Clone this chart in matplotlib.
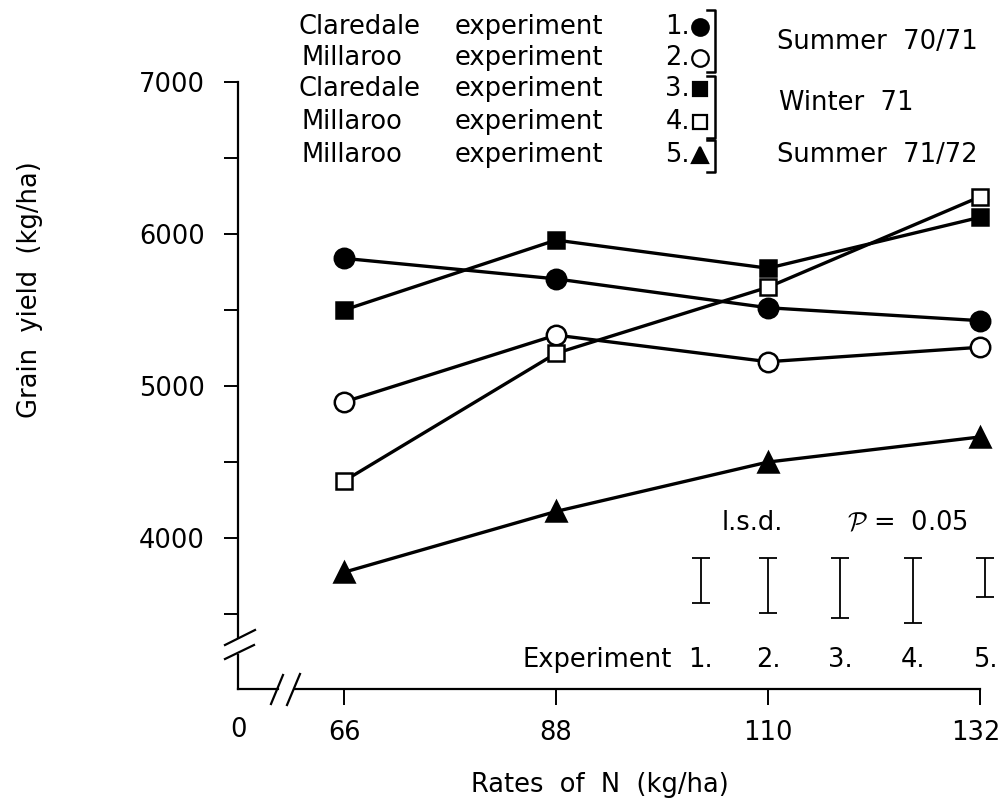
import matplotlib
matplotlib.use("Agg")
import matplotlib.pyplot as plt
import matplotlib.transforms as mtransforms
from matplotlib.lines import Line2D

# data
rates = [66, 88, 110, 132]
exp1 = [5840, 5705, 5515, 5430]   # Claredale, summer 70/71
exp2 = [4895, 5335, 5160, 5255]   # Millaroo, summer 70/71
exp3 = [5500, 5960, 5775, 6110]   # Claredale, winter 71
exp4 = [4375, 5215, 5650, 6245]   # Millaroo, winter 71
exp5 = [3775, 4175, 4500, 4665]   # Millaroo, summer 71/72

# l.s.d. bars (P = 0.05)
lsd_labels = ['1.', '2.', '3.', '4.', '5.']
lsd_x = [103, 110, 117.5, 125, 132.5]
lsd_top = 3870
lsd_len = [300, 365, 395, 430, 260]

FS = 18.5
plt.rcParams['font.family'] = ['DejaVu Sans']
W, H = 1001, 808
fig = plt.figure(figsize=(W / 100, H / 100), dpi=100)

# axes placed so 0 sits at px 238, 132 at px 980, 7000 at py 82
ax = fig.add_axes([238 / W, (H - 689) / H, (980 - 238) / W, (689 - 82) / H])
ax.set_xlim(55.0, 132)
ax.set_ylim(3007, 7000)
for s in ax.spines.values():
    s.set_visible(False)

# pixel transform for decorations
px = mtransforms.Affine2D().scale(1 / W, -1 / H).translate(0, 1) + fig.transFigure

styles = [
    (exp1, 'o', 'black', 14),
    (exp2, 'o', 'white', 14),
    (exp3, 's', 'black', 12),
    (exp4, 's', 'white', 12),
    (exp5, '^', 'black', 14),
]
for vals, m, fc, ms in styles:
    ax.plot(rates, vals, color='black', lw=2.4, marker=m, markersize=ms,
            markerfacecolor=fc, markeredgecolor='black', markeredgewidth=1.8,
            clip_on=False, zorder=3)

# axis lines with breaks
axline = dict(color='black', lw=1.6, clip_on=False, transform=px)
fig.add_artist(Line2D([238, 238], [82, 637], **axline))
fig.add_artist(Line2D([238, 238], [655, 689], **axline))
fig.add_artist(Line2D([225, 255], [645, 630], **axline))
fig.add_artist(Line2D([225, 254], [659, 645], **axline))
fig.add_artist(Line2D([238, 278], [689, 689], **axline))
fig.add_artist(Line2D([295, 980], [689, 689], **axline))
fig.add_artist(Line2D([271, 283], [704, 675], **axline))
fig.add_artist(Line2D([287, 300], [705, 674], **axline))

ax.set_xticks(rates)
ax.set_xticklabels([str(r) for r in rates])
ax.set_yticks([4000, 5000, 6000, 7000])
ax.set_yticks([3500, 4500, 5500, 6500], minor=True)
ax.tick_params(axis='y', which='both', direction='out', length=10, width=1.4,
               labelsize=FS, pad=14)
ax.tick_params(axis='x', which='both', direction='out', length=11.5, width=1.4,
               labelsize=FS, pad=11)
# keep "132" inside the canvas
last = ax.get_xticklabels()[-1]
last.set_transform(last.get_transform() +
                   mtransforms.ScaledTranslation(-4 / 100, 0, fig.dpi_scale_trans))
fig.text(238 / W, 1 - 730 / H, '0', ha='center', va='center', fontsize=FS)

fig.text(30 / W, 1 - 290 / H, 'Grain  yield  (kg/ha)', rotation=90, ha='center',
         va='center', fontsize=FS)
fig.text(600 / W, 1 - 785 / H, 'Rates  of  N  (kg/ha)', ha='center', va='center',
         fontsize=FS)

# l.s.d. bars
for x, l, lab in zip(lsd_x, lsd_len, lsd_labels):
    ax.errorbar([x], [lsd_top - l / 2], yerr=[l / 2], fmt='none', ecolor='black',
                elinewidth=1.3, capsize=6.5, capthick=1.3, clip_on=False)
    ax.text(x, 3197, lab, ha='center', va='center', fontsize=FS)
fig.text(672 / W, 1 - 660 / H, 'Experiment', ha='right', va='center', fontsize=FS)
fig.text(722 / W, 1 - 523 / H, 'l.s.d.', ha='left', va='center', fontsize=FS)
fig.text(968 / W, 1 - 523 / H, r'$\mathcal{P}$ =  0.05', ha='right',
         va='center', fontsize=FS, math_fontfamily='cm')

# legend block at the top
rows_y = [27, 58, 89, 122, 155]
sites = ['Claredale', 'Millaroo', 'Claredale', 'Millaroo', 'Millaroo']
site_x = [298, 302, 298, 302, 302]
for i, (y, site, sx) in enumerate(zip(rows_y, sites, site_x)):
    fig.text(sx / W, 1 - y / H, site, ha='left', va='center', fontsize=FS)
    fig.text(455 / W, 1 - y / H, 'experiment', ha='left', va='center', fontsize=FS)
    fig.text(690 / W, 1 - y / H, '%d.' % (i + 1), ha='right', va='center', fontsize=FS)
    vals, m, fc, ms = styles[i]
    fig.add_artist(Line2D([700], [y], transform=px, marker=m, markersize=ms * 0.85,
                          markerfacecolor=fc, markeredgecolor='black',
                          markeredgewidth=1.6, linestyle='none'))

brk = dict(color='black', lw=1.8, transform=px)
for top, bot in [(10, 72), (76, 138), (140, 172)]:
    fig.add_artist(Line2D([707, 715, 715, 707], [top, top, bot, bot], **brk))

fig.text(777 / W, 1 - 42 / H, 'Summer  70/71', ha='left', va='center', fontsize=FS)
fig.text(779 / W, 1 - 103 / H, 'Winter  71', ha='left', va='center', fontsize=FS)
fig.text(777 / W, 1 - 155 / H, 'Summer  71/72', ha='left', va='center', fontsize=FS)

fig.savefig('out.png', dpi=100)
